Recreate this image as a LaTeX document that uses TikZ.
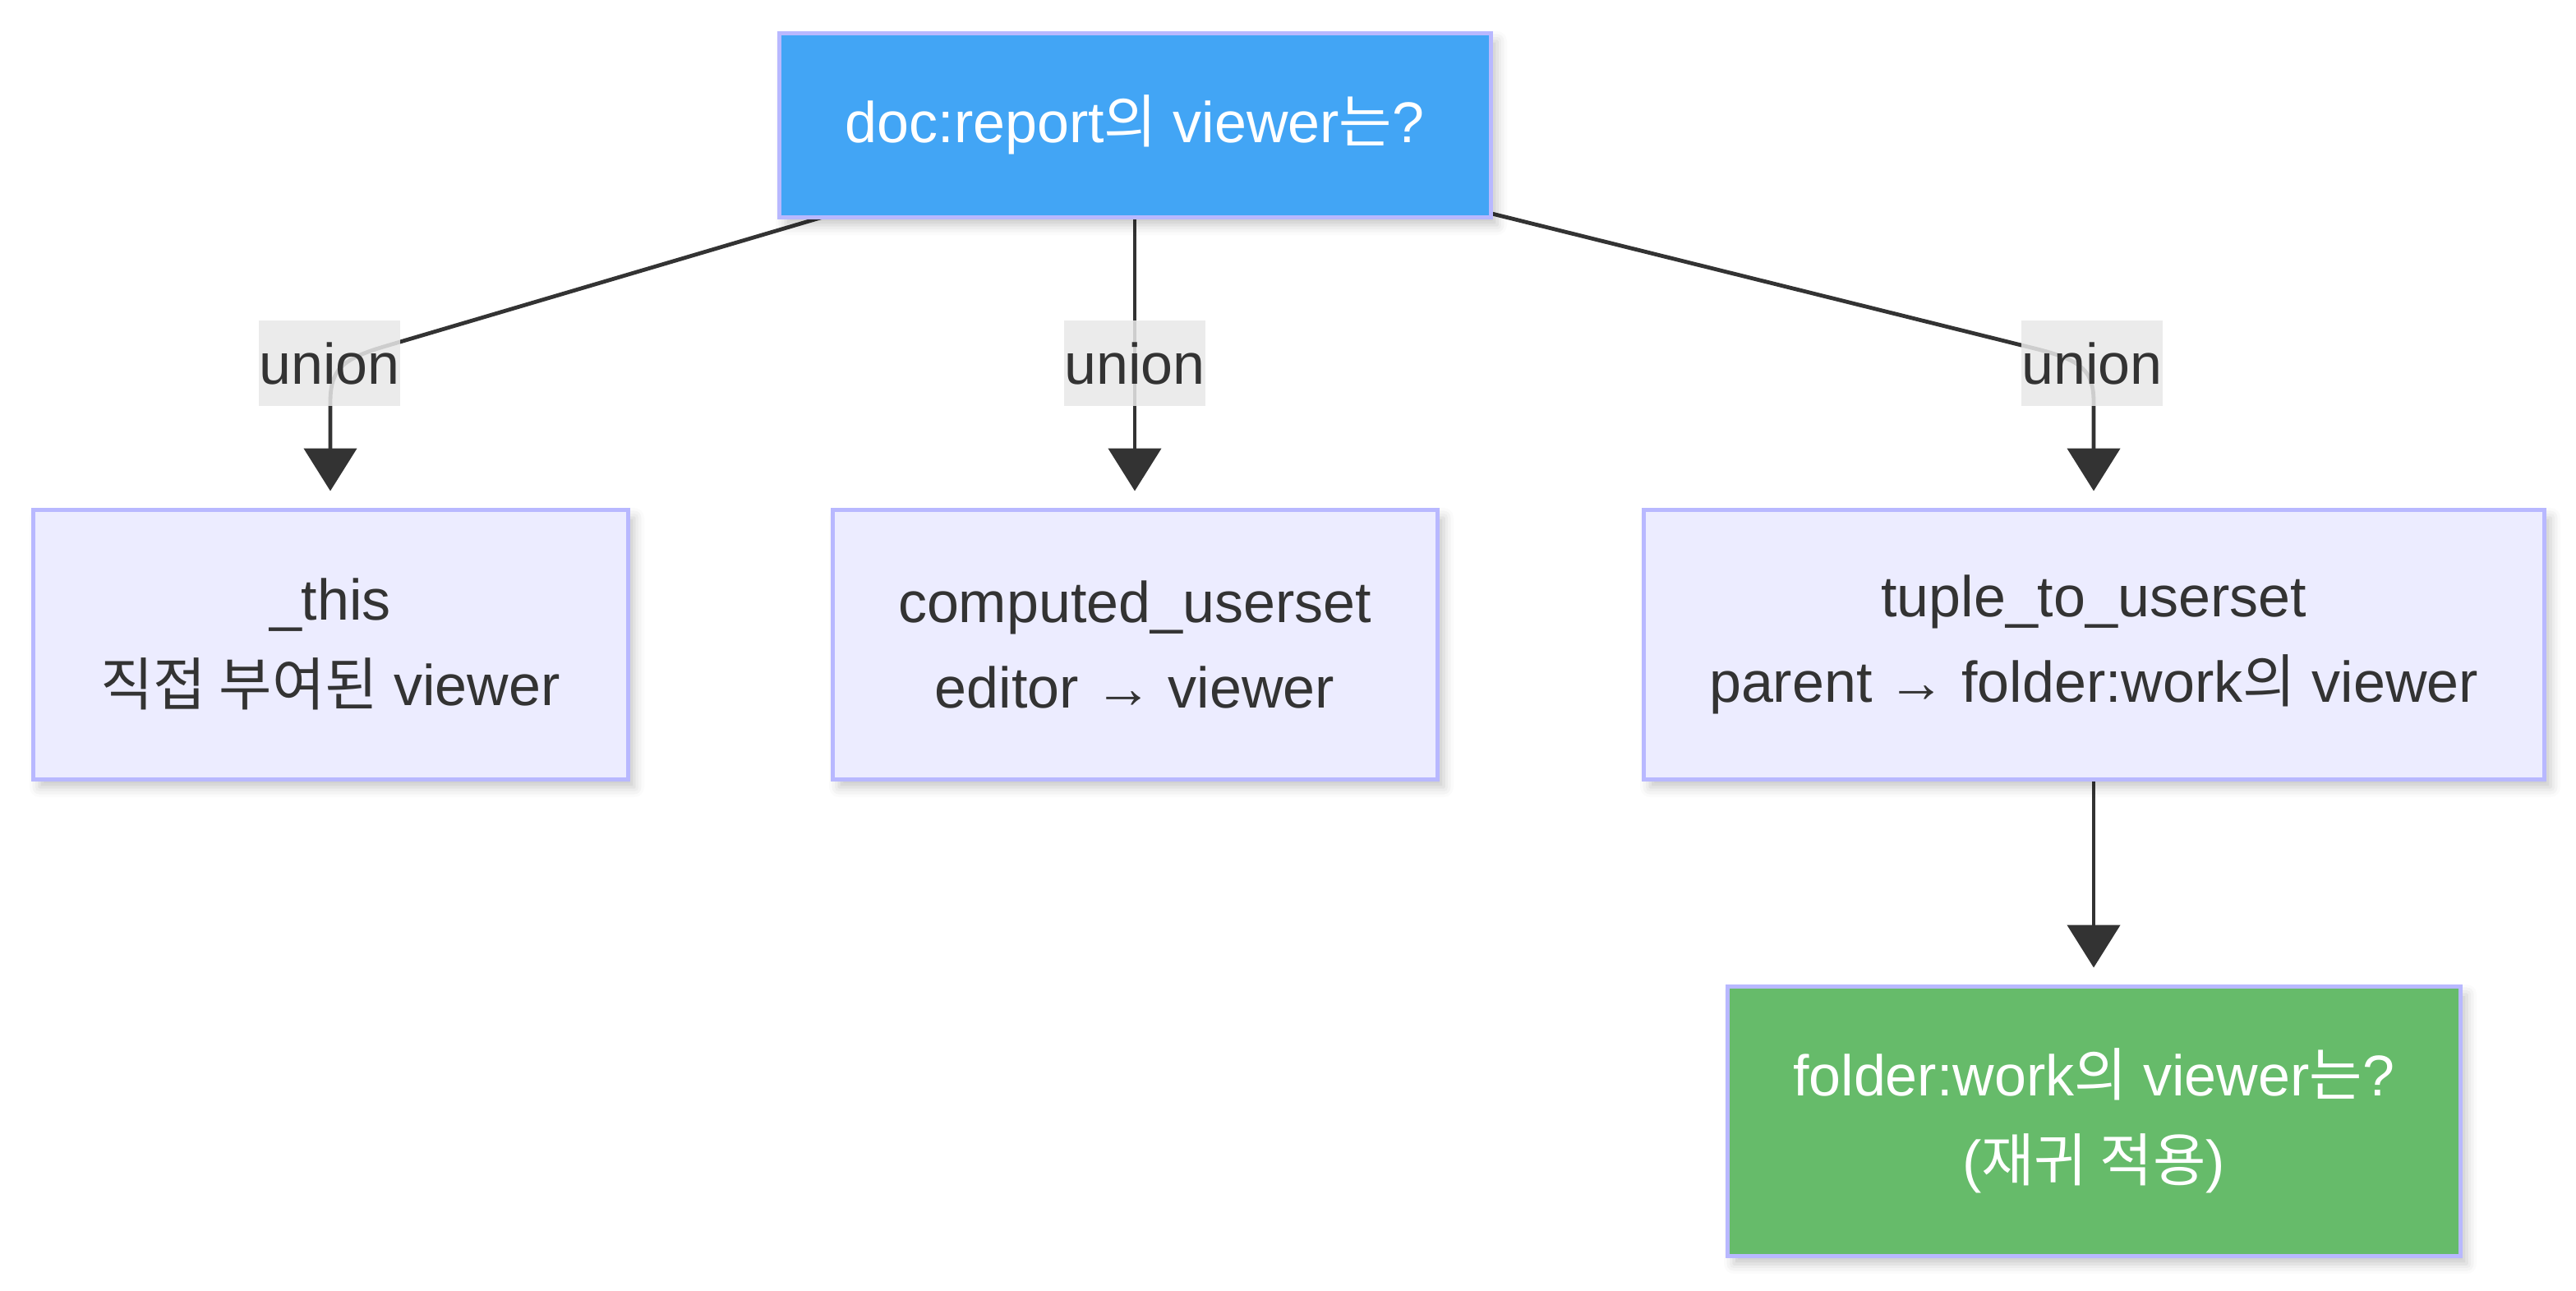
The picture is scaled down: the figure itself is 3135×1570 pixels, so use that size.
\documentclass[tikz,border=0pt]{standalone}
\usepackage{fontspec}
\setmainfont{Liberation Sans}
\newfontfamily\kr{Noto Sans CJK KR}
\usetikzlibrary{arrows.meta,shadows.blur}
\definecolor{edgec}{HTML}{333333}
\definecolor{boxfill}{HTML}{ECECFF}
\definecolor{boxline}{HTML}{B8B8FF}
\definecolor{bluefill}{HTML}{42A5F5}
\definecolor{greenfill}{HTML}{66BB6A}
\definecolor{lblfill}{HTML}{E8E8E8}
\pgfdeclarelayer{bg}
\pgfsetlayers{bg,main}
\begin{document}
\begin{tikzpicture}[x=0.5pt,y=-0.5pt,
  base/.style={draw=boxline, line width=2.5pt, inner sep=0pt, align=center,
    font=\fontsize{35}{52}\selectfont,
    blur shadow={shadow xshift=4pt, shadow yshift=-5pt, shadow opacity=22, shadow blur radius=6pt}},
  plain/.style={base, fill=boxfill, text=edgec, minimum height=164pt},
  qblue/.style={base, fill=bluefill, text=white},
  qgreen/.style={base, fill=greenfill, text=white, minimum height=164pt},
  lbl/.style={fill=lblfill, fill opacity=0.85, text opacity=1, text=edgec, inner sep=0pt,
    minimum width=85pt, minimum height=52pt, font=\fontsize{35}{52}\selectfont},
  edge/.style={draw=edgec, line width=2.4pt, -{Triangle[width=32pt,length=26pt]}}]
\useasboundingbox (0,0) rectangle (3135,1570);

\node[qblue, minimum width=433pt, minimum height=112pt] (top) at (1381,152) {doc:report{\kr 의} viewer{\kr 는}?};
\node[plain, minimum width=362pt] (b1) at (402,784) {\_this\\{\kr 직접 부여된} viewer};
\node[plain, minimum width=368pt] (b2) at (1381,784) {computed\_userset\\editor → viewer};
\node[plain, minimum width=548pt] (b3) at (2548,784) {tuple\_to\_userset\\parent → folder:work{\kr 의} viewer};
\node[qgreen, minimum width=446pt] (b4) at (2548,1364) {folder:work{\kr 의} viewer{\kr 는}?\\({\kr 재귀 적용})};

\begin{pgfonlayer}{bg}
\draw[edge] (top.center) -- (470,421) .. controls (415,437) and (402,450) .. (402,490) -- ([yshift=10pt]b1.north);
\draw[edge] (top.center) -- ([yshift=10pt]b2.north);
\draw[edge] (top.center) -- (2480,425) .. controls (2535,439) and (2548,452) .. (2548,490) -- ([yshift=10pt]b3.north);
\draw[edge] (b3.south) -- ([yshift=10pt]b4.north);
\end{pgfonlayer}

\node[lbl] (l1) at (401,442) {union};
\node[lbl] (l2) at (1381,442) {union};
\node[lbl] (l3) at (2546,442) {union};
\end{tikzpicture}
\end{document}
